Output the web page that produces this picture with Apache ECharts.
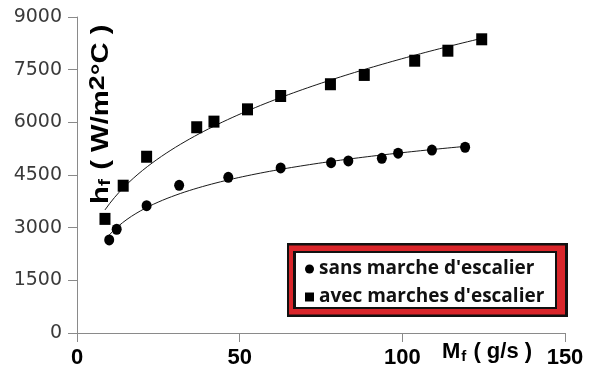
<!DOCTYPE html>
<html>
<head>
<meta charset="utf-8">
<script src="https://cdn.jsdelivr.net/npm/echarts@6/dist/echarts.min.js"></script>
<style>
  html, body { margin: 0; padding: 0; background: #fff; }
  #chart { width: 602px; height: 375px; }
</style>
</head>
<body>
<div id="chart"></div>
<script>
// Mass flow rate Mf (g/s) and heat transfer coefficient hf (W/m2°C)
const flowWithoutSteps = [9.9, 12.2, 21.4, 31.4, 46.5, 62.6, 78.1, 83.4, 93.7, 98.7, 109.1, 119.3];
const hWithoutSteps    = [2650, 2955, 3625, 4205, 4435, 4700, 4850, 4900, 4975, 5120, 5210, 5290];

const flowWithSteps = [8.6, 14.2, 21.4, 36.8, 42.1, 52.4, 62.6, 77.9, 88.3, 103.8, 114.0, 124.4];
const hWithSteps    = [3250, 4195, 5020, 5860, 6020, 6370, 6750, 7085, 7350, 7755, 8040, 8365];

const seriesNames = ["sans marche d'escalier", "avec marches d'escalier"];
const xTicks = [0, 50, 100, 150];
const yTicks = [0, 1500, 3000, 4500, 6000, 7500, 9000];

const zip = (xs, ys) => xs.map((x, i) => [x, ys[i]]);

// Least-squares trendline over the data range:
//  'log'   : y = a + b ln(x)
//  'power' : y = a * x^b
function trendline(xs, ys, kind, steps) {
  const n = xs.length;
  const tx = xs.map(Math.log);
  const ty = kind === 'power' ? ys.map(Math.log) : ys.slice();
  const mx = tx.reduce((s, v) => s + v, 0) / n;
  const my = ty.reduce((s, v) => s + v, 0) / n;
  let sxy = 0, sxx = 0;
  for (let i = 0; i < n; i++) {
    sxy += (tx[i] - mx) * (ty[i] - my);
    sxx += (tx[i] - mx) * (tx[i] - mx);
  }
  const b = sxy / sxx;
  const a = my - b * mx;
  const f = x => kind === 'power' ? Math.exp(a + b * Math.log(x)) : a + b * Math.log(x);
  const x0 = Math.min(...xs), x1 = Math.max(...xs);
  const pts = [];
  for (let i = 0; i <= steps; i++) {
    const x = x0 + (x1 - x0) * i / steps;
    pts.push([x, f(x)]);
  }
  return pts;
}

const chart = echarts.init(document.getElementById('chart'), null, { renderer: 'canvas' });

const axisGrey = '#8a8a8a';
const boldFont = 'Liberation Sans, Arial, sans-serif';

chart.setOption({
  animation: false,
  backgroundColor: '#fff',
  grid: { left: 77, right: 37, top: 17, bottom: 42 },
  xAxis: {
    type: 'value',
    min: xTicks[0],
    max: xTicks[xTicks.length - 1],
    interval: xTicks[1] - xTicks[0],
    splitLine: { show: false },
    axisLine: { show: true, onZero: false, lineStyle: { color: axisGrey, width: 1 } },
    axisTick: { show: true, inside: false, length: 9, lineStyle: { color: axisGrey } },
    axisLabel: {
      margin: 14,
      color: '#000',
      fontFamily: boldFont,
      fontWeight: 'bold',
      fontSize: 22,
      formatter: v => String(v)
    }
  },
  yAxis: {
    type: 'value',
    min: yTicks[0],
    max: yTicks[yTicks.length - 1],
    interval: yTicks[1] - yTicks[0],
    splitLine: { show: false },
    axisLine: { show: true, onZero: false, lineStyle: { color: axisGrey, width: 1 } },
    axisTick: { show: true, inside: false, length: 9, lineStyle: { color: axisGrey } },
    axisLabel: {
      margin: 15,
      color: '#3a3a3a',
      fontFamily: 'DejaVu Sans, sans-serif',
      fontSize: 19,
      formatter: v => String(v)
    }
  },
  legend: {
    orient: 'vertical',
    left: 305,
    top: 259,
    padding: 0,
    itemWidth: 9,
    itemHeight: 9,
    itemGap: 8,
    textStyle: {
      color: '#111',
      fontFamily: 'Open Sans, sans-serif',
      fontWeight: 'bold',
      fontSize: 19,
      lineHeight: 20
    },
    data: [
      { name: seriesNames[0], icon: 'circle' },
      { name: seriesNames[1], icon: 'rect' }
    ]
  },
  graphic: [
    // legend frame: black / red / black border
    { type: 'rect', z: 1, shape: { x: 287, y: 243, width: 281, height: 74 }, style: { fill: '#111' } },
    { type: 'rect', z: 2, shape: { x: 289, y: 245.5, width: 276, height: 69 }, style: { fill: '#d9262b' } },
    { type: 'rect', z: 3, shape: { x: 293, y: 251, width: 264, height: 58 }, style: { fill: '#111' } },
    { type: 'rect', z: 4, shape: { x: 296, y: 253, width: 259, height: 54 }, style: { fill: '#fff' } },
    // x axis title
    {
      type: 'text', z: 10, left: 442, top: 340,
      style: {
        text: '{a|M}{b|f}{a| ( g/s )}',
        rich: {
          a: { fontFamily: boldFont, fontWeight: 'bold', fontSize: 22, fill: '#000', lineHeight: 24 },
          b: { fontFamily: boldFont, fontWeight: 'bold', fontSize: 15, fill: '#000', padding: [9, 1, 0, 1], lineHeight: 24 }
        }
      }
    },
    // y axis title (rotated)
    {
      type: 'text', z: 10, x: 88, y: 204, rotation: Math.PI / 2, scaleX: 1.22,
      style: {
        text: '{a|h}{b|f}{a| ( W/m}{c|2}{a|°C )}',
        rich: {
          a: { fontFamily: boldFont, fontWeight: 'bold', fontSize: 24, fill: '#000', lineHeight: 26 },
          b: { fontFamily: boldFont, fontWeight: 'bold', fontSize: 17, fill: '#000', padding: [8, 1, 0, 0], lineHeight: 26 },
          c: { fontFamily: boldFont, fontWeight: 'bold', fontSize: 22, fill: '#000', padding: [0, 0, 6, 0], lineHeight: 26 }
        }
      }
    }
  ],
  series: [
    {
      name: 'trend without steps',
      type: 'line',
      data: trendline(flowWithoutSteps, hWithoutSteps, 'log', 80),
      showSymbol: false,
      silent: true,
      z: 2,
      lineStyle: { color: '#1a1a1a', width: 1 }
    },
    {
      name: 'trend with steps',
      type: 'line',
      data: trendline(flowWithSteps, hWithSteps, 'power', 80),
      showSymbol: false,
      silent: true,
      z: 2,
      lineStyle: { color: '#1a1a1a', width: 1 }
    },
    {
      name: seriesNames[0],
      type: 'scatter',
      data: zip(flowWithoutSteps, hWithoutSteps),
      symbol: 'circle',
      symbolSize: [10, 11],
      z: 3,
      itemStyle: { color: '#000', opacity: 1 }
    },
    {
      name: seriesNames[1],
      type: 'scatter',
      data: zip(flowWithSteps, hWithSteps),
      symbol: 'rect',
      symbolSize: [11, 12],
      z: 3,
      itemStyle: { color: '#000', opacity: 1 }
    }
  ]
});
</script>
</body>
</html>
